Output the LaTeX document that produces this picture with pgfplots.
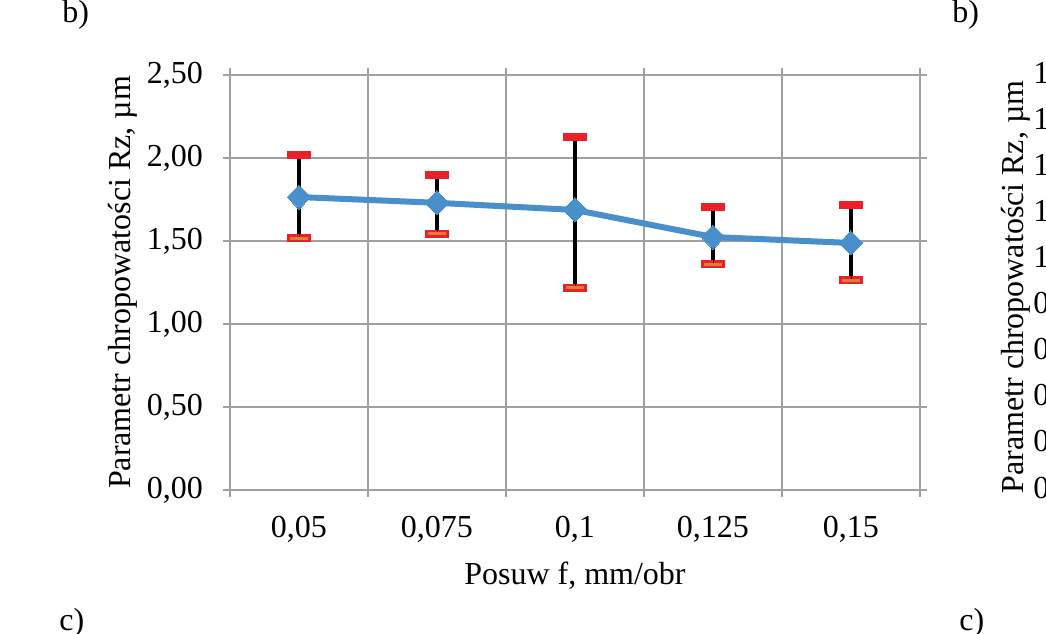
\documentclass[border=0pt]{standalone}
\usepackage{pgfplots}
\pgfplotsset{compat=1.18}
\usepackage{pgfplotstable}
\usepackage{fontspec}
\setmainfont{Liberation Serif}

\definecolor{lineblue}{RGB}{72,143,204}
\definecolor{capred}{RGB}{236,32,40}
\definecolor{caporange}{RGB}{222,128,52}
\definecolor{gridgray}{RGB}{160,160,160}

% feed rate, mean Rz, error up, error down
\pgfplotstableread{
x y ep em
1 1.765 0.255 0.247
2 1.730 0.170 0.185
3 1.687 0.440 0.470
4 1.524 0.181 0.163
5 1.488 0.229 0.223
}\rzdata

\begin{document}
\fontsize{16}{19}\selectfont
\begin{tikzpicture}
\useasboundingbox (0,0) rectangle (523pt,316.5pt);
\clip (0,0) rectangle (523pt,316.5pt);
\begin{axis}[
    at={(115pt,71.5pt)}, anchor=south west,
    scale only axis,
    width=345pt, height=207.5pt,
    xmin=0.5, xmax=5.5,
    ymin=0, ymax=2.5,
    xtick={0.5,1.5,...,5.5},
    xticklabels={},
    extra x ticks={1,2,3,4,5},
    extra x tick labels={{0,05},{0,075},{0,1},{0,125},{0,15}},
    extra x tick style={grid=none, major tick length=0pt},
    every x tick label/.append style={yshift=-7.5pt},
    ytick={0,0.5,...,2.5},
    yticklabel style={xshift=-4.5pt, /pgf/number format/.cd, fixed, fixed zerofill, precision=2, use comma},
    /pgf/number format/assume math mode=true,
    grid=major,
    major grid style={gridgray, line width=1pt},
    axis line style={gridgray, line width=1pt},
    tick style={gridgray, line width=1pt},
    tick align=outside,
    major tick length=3.5pt,
    xlabel={Posuw f, mm/obr},
    xlabel style={at={(axis description cs:0.5,0)}, anchor=base, yshift=-47pt},
    ylabel={Parametr chropowatości Rz, µm},
    ylabel style={yshift=-6pt},
]
\addplot[lineblue, line width=3pt, mark=diamond*, mark size=6pt,
    mark options={xscale=1.33, fill=lineblue, draw=lineblue, line width=0pt}]
    table[x=x, y=y] {\rzdata};
\addplot[draw=none, mark=none, forget plot,
    error bars/.cd, y dir=both, y explicit,
    error bar style={black, line width=1.6pt},
    error mark=-,
    error mark options={rotate=90, draw=capred, line width=4pt, mark size=6pt}]
    table[x=x, y=y, y error plus=ep, y error minus=em] {\rzdata};
\addplot[draw=none, mark=none, forget plot,
    error bars/.cd, y dir=minus, y explicit,
    error bar style={draw=none},
    error mark=-,
    error mark options={rotate=90, draw=caporange, line width=1.5pt, mark size=4.5pt}]
    table[x=x, y=y, y error plus=ep, y error minus=em] {\rzdata};
\end{axis}
\begin{scope}[x=0.5pt, y=-0.5pt, shift={(0,316.5pt)}]
\node[anchor=base west, inner sep=0] at (62,23) {b)};
\node[anchor=base west, inner sep=0] at (952,23) {b)};
\node[anchor=base west, inner sep=0] at (59,630) {c)};
\node[anchor=base west, inner sep=0] at (959,630) {c)};
\node[rotate=90, inner sep=0] at (1016,287) {Parametr chropowatości Rz, µm};
\foreach \lab [count=\i from 0] in {{1,80},{1,60},{1,40},{1,20},{1,00},{0,80},{0,60},{0,40},{0,20},{0,00}}
  \node[anchor=west, inner sep=0] at (1033,{75+\i*46.1}) {\lab};
\end{scope}
\end{tikzpicture}
\end{document}
